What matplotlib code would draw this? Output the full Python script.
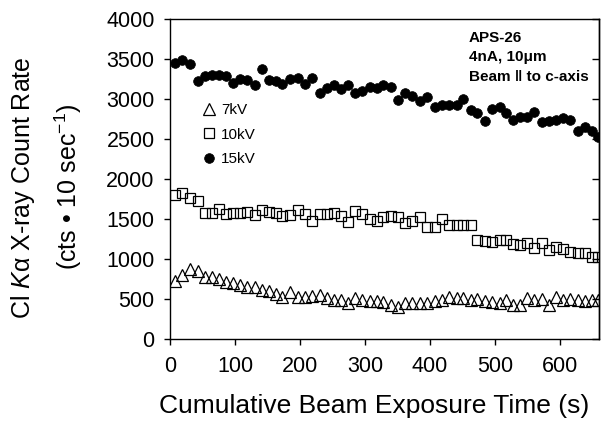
import matplotlib
matplotlib.use("Agg")
import matplotlib.pyplot as plt

plt.rcParams['font.family'] = ['Liberation Sans', 'DejaVu Sans']
plt.rcParams['mathtext.fontset'] = 'custom'
plt.rcParams['mathtext.rm'] = 'Liberation Sans'
plt.rcParams['mathtext.it'] = 'Liberation Sans:italic'
plt.rcParams['mathtext.bf'] = 'Liberation Sans:bold'

# ---- data ----
time_s = [8, 19, 31, 43, 54, 64, 75, 86, 97, 108,
          119, 130, 141, 152, 163, 173, 185, 197, 208, 219,
          231, 241, 252, 263, 274, 285, 296, 307, 318, 328,
          340, 351, 362, 373, 385, 396, 407, 418, 429, 441,
          451, 463, 473, 484, 496, 507, 517, 528, 538, 549,
          560, 572, 583, 594, 605, 615, 627, 638, 649, 659]

kv15 = [3450, 3490, 3440, 3220, 3290, 3300, 3300, 3290, 3200, 3250,
        3240, 3180, 3370, 3240, 3220, 3190, 3250, 3260, 3190, 3260,
        3070, 3140, 3170, 3120, 3170, 3080, 3100, 3150, 3140, 3180,
        3150, 2990, 3070, 3040, 2980, 3030, 2900, 2930, 2930, 2920,
        3000, 2860, 2830, 2720, 2880, 2900, 2820, 2740, 2770, 2780,
        2840, 2710, 2730, 2740, 2760, 2740, 2600, 2650, 2600, 2520]

kv10 = [1800, 1820, 1760, 1720, 1570, 1580, 1620, 1560, 1570, 1570,
        1590, 1550, 1610, 1590, 1575, 1540, 1550, 1610, 1560, 1475,
        1560, 1560, 1580, 1540, 1460, 1600, 1560, 1500, 1470, 1530,
        1540, 1530, 1450, 1470, 1520, 1400, 1400, 1500, 1430, 1430,
        1425, 1430, 1240, 1220, 1210, 1240, 1235, 1185, 1175, 1195,
        1135, 1195, 1110, 1155, 1125, 1090, 1070, 1070, 1030, 1030]

kv7 = [720, 800, 870, 850, 780, 770, 750, 715, 695, 675,
       645, 655, 610, 600, 560, 530, 590, 530, 520, 540,
       550, 510, 490, 490, 450, 510, 490, 470, 480, 465,
       425, 405, 445, 455, 445, 445, 475, 490, 520, 510,
       510, 490, 500, 470, 465, 450, 490, 430, 430, 515,
       490, 500, 430, 520, 490, 505, 490, 470, 490, 485]

x_ticks = [0, 100, 200, 300, 400, 500, 600]
y_ticks = [0, 500, 1000, 1500, 2000, 2500, 3000, 3500, 4000]

# ---- figure ----
fig = plt.figure(figsize=(6.01, 4.21), dpi=100)
ax = fig.add_axes([170/601, 1-339/421, (599-170)/601, (339-19)/421])

l7, = ax.plot(time_s, kv7, linestyle='none', marker='^', markersize=8,
              mfc='none', mec='black', mew=0.9, label='7kV')
l10, = ax.plot(time_s, kv10, linestyle='none', marker='s', markersize=7.5,
               mfc='none', mec='black', mew=0.9, label='10kV')
l15, = ax.plot(time_s, kv15, linestyle='none', marker='o', markersize=7,
               mfc='black', mec='black', mew=0.5, label='15kV')

ax.set_xlim(0, 660)
ax.set_ylim(0, 4000)
ax.set_xticks(x_ticks)
ax.set_yticks(y_ticks)

for s in ax.spines.values():
    s.set_linewidth(1.0)

ax.tick_params(axis='x', which='major', direction='out', length=4.5, width=1,
               labelsize=15.5, pad=8, top=False)
ax.tick_params(axis='y', which='major', direction='out', length=4.5, width=1,
               labelsize=15.5, pad=6.5, left=True, right=False)
# right-side inward ticks
ax2 = ax.secondary_yaxis('right')
ax2.set_yticks(y_ticks)
ax2.tick_params(axis='y', direction='in', length=5, width=1, labelright=False)
ax2.spines['right'].set_linewidth(1.0)

leg = ax.legend(handles=[l7, l10, l15], loc='upper left',
                bbox_to_anchor=((203-170)/429, (339-103)/320),
                frameon=False, fontsize=11, handlelength=0.8,
                handletextpad=0.4, labelspacing=0.7, borderaxespad=0,
                borderpad=0)

ax.text(460, 3850, "APS-26\n4nA, 10\u03bcm\nBeam \u2016 to c-axis",
        fontsize=11, fontweight='bold', ha='left', va='top',
        linespacing=1.5)

fig.text(374/601, 1-406/421, "Cumulative Beam Exposure Time (s)",
         ha='center', va='center', fontsize=19)
fig.text(23/601, 1-188/421, "Cl $\\mathit{K}$\u03b1 X-ray Count Rate",
         ha='center', va='center', rotation=90, fontsize=18)
fig.text(68/601, 1-187/421, "(cts \u2022 10 sec$^{-1}$)",
         ha='center', va='center', rotation=90, fontsize=18)

fig.savefig("out.png", dpi=100)
